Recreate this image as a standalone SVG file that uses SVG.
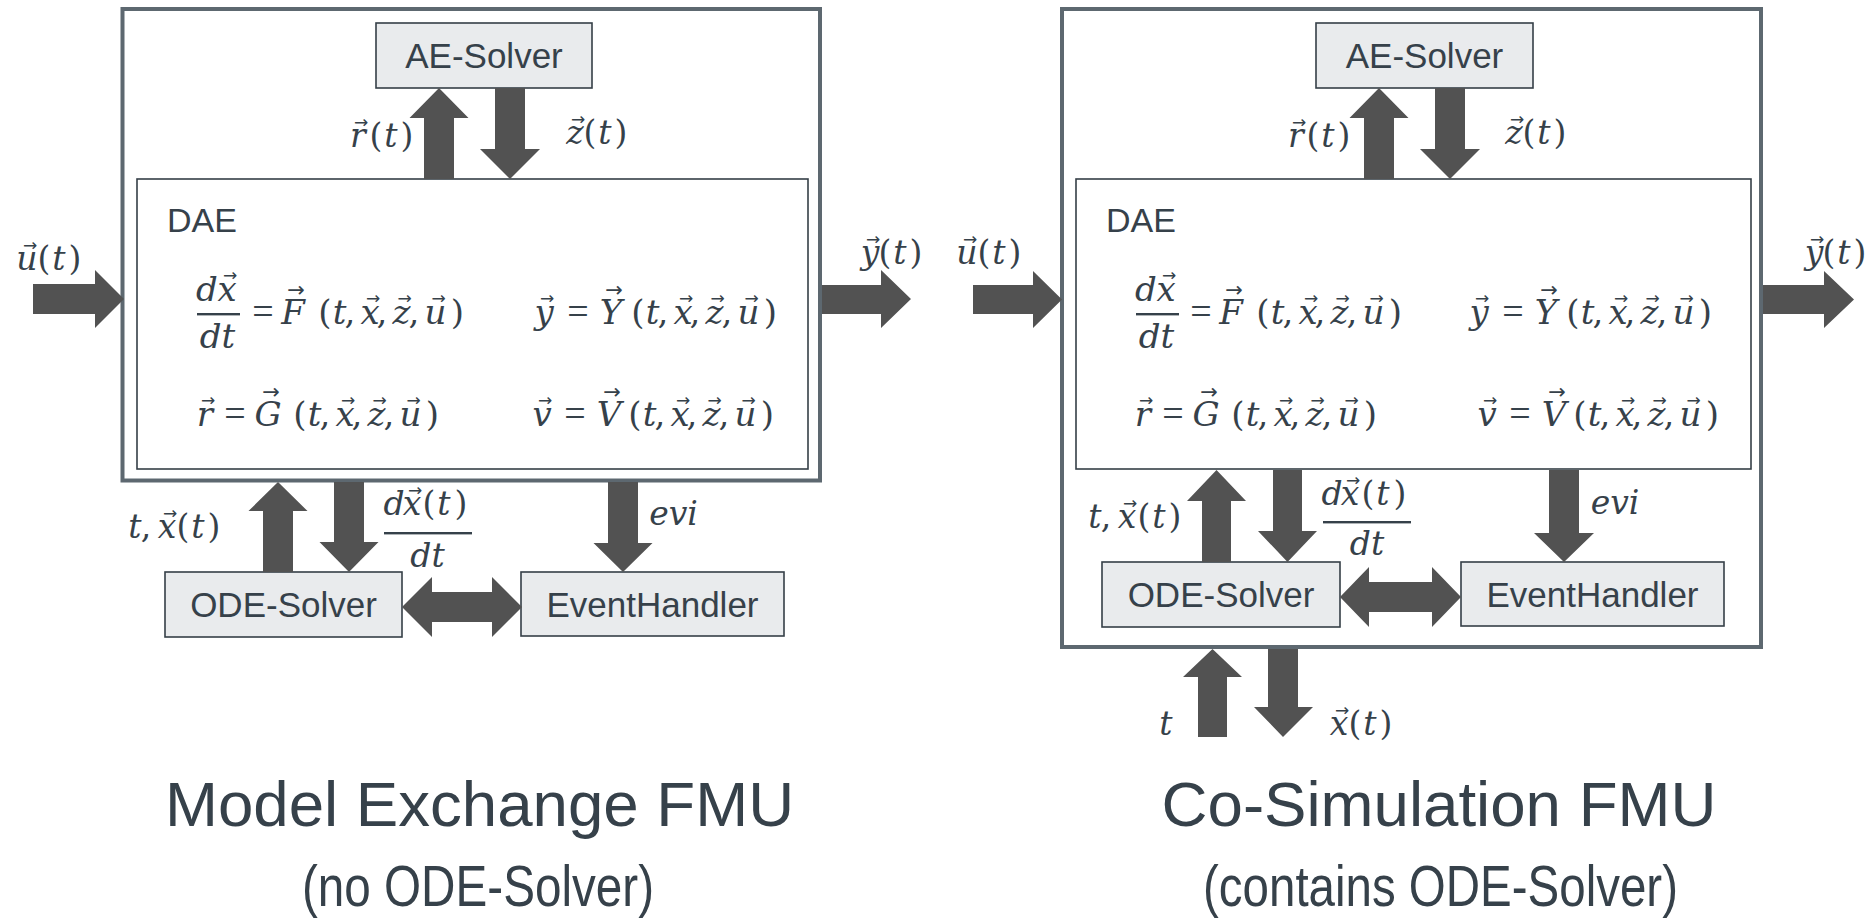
<svg xmlns="http://www.w3.org/2000/svg" width="1872" height="921" viewBox="0 0 1872 921">
<style>
.frame{fill:none;stroke:#5d6870;stroke-width:4}
.dae{fill:none;stroke:#353f47;stroke-width:1.6}
.box{fill:#e9ebed;stroke:#353f47;stroke-width:1.6}
.arr{fill:#525252}
.lbl{font-family:"Liberation Sans",Arial,sans-serif;fill:#36414a}
.bl{font-size:35px;text-anchor:middle}
.dl{font-size:34px}
.title{font-size:63.6px;text-anchor:middle}
.sub{font-size:58px;text-anchor:middle}
.m{font-family:"DejaVu Serif",serif;fill:#36414a;text-anchor:middle}
.eq{font-size:34px}
.ml{font-size:33px}
.i{font-style:italic}
.e{font-family:"Liberation Serif",serif;font-size:38px}
.a{font-family:"DejaVu Sans",sans-serif;font-size:17px;font-style:normal}
.A{font-family:"DejaVu Sans",sans-serif;font-size:21px;font-style:normal}
.fl{fill:#36414a}
</style>
<rect width="1872" height="921" fill="#ffffff"/>

<!-- ============ LEFT: Model Exchange FMU ============ -->
<g id="me-frame"><rect class="frame" x="122.5" y="9" width="697.5" height="471.5"/></g>
<g id="me-ae-solver"><rect class="box" x="376" y="23" width="216" height="65"/><text class="lbl bl" x="484" y="68">AE-Solver</text></g>
<g id="me-dae">
<rect class="dae" x="137" y="179" width="671" height="290"/>
<text class="lbl dl" x="167" y="232">DAE</text>
<text class="m eq"><tspan class="i" x="207" y="301">d</tspan><tspan class="i" x="227" y="301">x</tspan><tspan class="a" x="230" y="281">→</tspan></text>
<rect class="fl" x="197" y="313" width="43" height="2.4"/>
<text class="m eq i" x="217.5" y="348">dt</text>
<text class="m eq"><tspan class="e" x="263" y="324">=</tspan><tspan class="i" x="293" y="324">F</tspan><tspan class="A" x="296" y="297">→</tspan><tspan x="325" y="324">(</tspan><tspan class="i" x="339.5" y="324">t</tspan><tspan x="350" y="324">,</tspan><tspan class="i" x="370" y="324">x</tspan><tspan class="a" x="373" y="304">→</tspan><tspan x="382" y="324">,</tspan><tspan class="i" x="401.5" y="324">z</tspan><tspan class="a" x="404.5" y="304">→</tspan><tspan x="414" y="324">,</tspan><tspan class="i" x="435.5" y="324">u</tspan><tspan class="a" x="438.5" y="304">→</tspan><tspan x="457.5" y="324">)</tspan></text>
<text class="m eq"><tspan class="i" x="544" y="324">y</tspan><tspan class="a" x="547" y="304">→</tspan><tspan class="e" x="578" y="324">=</tspan><tspan class="i" x="611" y="324">Y</tspan><tspan class="A" x="614" y="297">→</tspan><tspan x="638" y="324">(</tspan><tspan class="i" x="652.5" y="324">t</tspan><tspan x="663" y="324">,</tspan><tspan class="i" x="683" y="324">x</tspan><tspan class="a" x="686" y="304">→</tspan><tspan x="695" y="324">,</tspan><tspan class="i" x="714.5" y="324">z</tspan><tspan class="a" x="717.5" y="304">→</tspan><tspan x="727" y="324">,</tspan><tspan class="i" x="748.5" y="324">u</tspan><tspan class="a" x="751.5" y="304">→</tspan><tspan x="770.5" y="324">)</tspan></text>
<text class="m eq"><tspan class="i" x="205" y="426">r</tspan><tspan class="a" x="208" y="406">→</tspan><tspan class="e" x="235" y="426">=</tspan><tspan class="i" x="268" y="426">G</tspan><tspan class="A" x="271" y="399">→</tspan><tspan x="300" y="426">(</tspan><tspan class="i" x="314.5" y="426">t</tspan><tspan x="325" y="426">,</tspan><tspan class="i" x="345" y="426">x</tspan><tspan class="a" x="348" y="406">→</tspan><tspan x="357" y="426">,</tspan><tspan class="i" x="376.5" y="426">z</tspan><tspan class="a" x="379.5" y="406">→</tspan><tspan x="389" y="426">,</tspan><tspan class="i" x="410.5" y="426">u</tspan><tspan class="a" x="413.5" y="406">→</tspan><tspan x="432.5" y="426">)</tspan></text>
<text class="m eq"><tspan class="i" x="542" y="426">v</tspan><tspan class="a" x="545" y="406">→</tspan><tspan class="e" x="575" y="426">=</tspan><tspan class="i" x="609" y="426">V</tspan><tspan class="A" x="612" y="399">→</tspan><tspan x="635" y="426">(</tspan><tspan class="i" x="649.5" y="426">t</tspan><tspan x="660" y="426">,</tspan><tspan class="i" x="680" y="426">x</tspan><tspan class="a" x="683" y="406">→</tspan><tspan x="692" y="426">,</tspan><tspan class="i" x="711.5" y="426">z</tspan><tspan class="a" x="714.5" y="406">→</tspan><tspan x="724" y="426">,</tspan><tspan class="i" x="745.5" y="426">u</tspan><tspan class="a" x="748.5" y="406">→</tspan><tspan x="767.5" y="426">)</tspan></text>
</g>
<g id="me-ode-solver"><rect class="box" x="165" y="572" width="237" height="65"/><text class="lbl bl" x="283.5" y="617">ODE-Solver</text></g>
<g id="me-eventhandler"><rect class="box" x="521" y="572" width="263" height="64"/><text class="lbl bl" x="652.5" y="617">EventHandler</text></g>
<g id="me-title">
<text class="lbl title" x="479.5" y="826">Model Exchange FMU</text>
<text class="lbl sub" x="478" y="906" textLength="352" lengthAdjust="spacingAndGlyphs">(no ODE-Solver)</text>
</g>

<!-- ============ RIGHT: Co-Simulation FMU ============ -->
<g id="cs-frame"><rect class="frame" x="1062" y="9" width="699" height="638"/></g>
<g id="cs-ae-solver"><rect class="box" x="1316" y="23" width="217" height="65"/><text class="lbl bl" x="1424.5" y="68">AE-Solver</text></g>
<g id="cs-dae">
<rect class="dae" x="1076" y="179" width="675" height="290"/>
<text class="lbl dl" x="1106" y="232">DAE</text>
<text class="m eq"><tspan class="i" x="1146" y="301">d</tspan><tspan class="i" x="1166" y="301">x</tspan><tspan class="a" x="1169" y="281">→</tspan></text>
<rect class="fl" x="1136" y="313" width="43" height="2.4"/>
<text class="m eq i" x="1156.5" y="348">dt</text>
<text class="m eq"><tspan class="e" x="1201" y="324">=</tspan><tspan class="i" x="1231" y="324">F</tspan><tspan class="A" x="1234" y="297">→</tspan><tspan x="1263" y="324">(</tspan><tspan class="i" x="1277.5" y="324">t</tspan><tspan x="1288" y="324">,</tspan><tspan class="i" x="1308" y="324">x</tspan><tspan class="a" x="1311" y="304">→</tspan><tspan x="1320" y="324">,</tspan><tspan class="i" x="1339.5" y="324">z</tspan><tspan class="a" x="1342.5" y="304">→</tspan><tspan x="1352" y="324">,</tspan><tspan class="i" x="1373.5" y="324">u</tspan><tspan class="a" x="1376.5" y="304">→</tspan><tspan x="1395.5" y="324">)</tspan></text>
<text class="m eq"><tspan class="i" x="1479" y="324">y</tspan><tspan class="a" x="1482" y="304">→</tspan><tspan class="e" x="1513" y="324">=</tspan><tspan class="i" x="1546" y="324">Y</tspan><tspan class="A" x="1549" y="297">→</tspan><tspan x="1573" y="324">(</tspan><tspan class="i" x="1587.5" y="324">t</tspan><tspan x="1598" y="324">,</tspan><tspan class="i" x="1618" y="324">x</tspan><tspan class="a" x="1621" y="304">→</tspan><tspan x="1630" y="324">,</tspan><tspan class="i" x="1649.5" y="324">z</tspan><tspan class="a" x="1652.5" y="304">→</tspan><tspan x="1662" y="324">,</tspan><tspan class="i" x="1683.5" y="324">u</tspan><tspan class="a" x="1686.5" y="304">→</tspan><tspan x="1705.5" y="324">)</tspan></text>
<text class="m eq"><tspan class="i" x="1143" y="426">r</tspan><tspan class="a" x="1146" y="406">→</tspan><tspan class="e" x="1173" y="426">=</tspan><tspan class="i" x="1206" y="426">G</tspan><tspan class="A" x="1209" y="399">→</tspan><tspan x="1238" y="426">(</tspan><tspan class="i" x="1252.5" y="426">t</tspan><tspan x="1263" y="426">,</tspan><tspan class="i" x="1283" y="426">x</tspan><tspan class="a" x="1286" y="406">→</tspan><tspan x="1295" y="426">,</tspan><tspan class="i" x="1314.5" y="426">z</tspan><tspan class="a" x="1317.5" y="406">→</tspan><tspan x="1327" y="426">,</tspan><tspan class="i" x="1348.5" y="426">u</tspan><tspan class="a" x="1351.5" y="406">→</tspan><tspan x="1370.5" y="426">)</tspan></text>
<text class="m eq"><tspan class="i" x="1487" y="426">v</tspan><tspan class="a" x="1490" y="406">→</tspan><tspan class="e" x="1520" y="426">=</tspan><tspan class="i" x="1554" y="426">V</tspan><tspan class="A" x="1557" y="399">→</tspan><tspan x="1580" y="426">(</tspan><tspan class="i" x="1594.5" y="426">t</tspan><tspan x="1605" y="426">,</tspan><tspan class="i" x="1625" y="426">x</tspan><tspan class="a" x="1628" y="406">→</tspan><tspan x="1637" y="426">,</tspan><tspan class="i" x="1656.5" y="426">z</tspan><tspan class="a" x="1659.5" y="406">→</tspan><tspan x="1669" y="426">,</tspan><tspan class="i" x="1690.5" y="426">u</tspan><tspan class="a" x="1693.5" y="406">→</tspan><tspan x="1712.5" y="426">)</tspan></text>
</g>
<g id="cs-ode-solver"><rect class="box" x="1102" y="562" width="238" height="65"/><text class="lbl bl" x="1221" y="607">ODE-Solver</text></g>
<g id="cs-eventhandler"><rect class="box" x="1461" y="562" width="263" height="64"/><text class="lbl bl" x="1592.5" y="607">EventHandler</text></g>
<g id="cs-title">
<text class="lbl title" x="1439" y="826">Co-Simulation FMU</text>
<text class="lbl sub" x="1440.5" y="906" textLength="475" lengthAdjust="spacingAndGlyphs">(contains ODE-Solver)</text>
</g>

<!-- ============ CONNECTORS ============ -->
<g id="connectors">
<polygon class="arr" points="33,284 95,284 95,270 124,299 95,328 95,314 33,314"/>
<polygon class="arr" points="822,285 881,285 881,270 911,299 881,328 881,314 822,314"/>
<polygon class="arr" points="424,179 424,118 409.5,118 439,88 468.5,118 454,118 454,179"/>
<polygon class="arr" points="495,88 525,88 525,149 540,149 510,179 480,149 495,149"/>
<polygon class="arr" points="263,572 263,511 248.5,511 278,482 307.5,511 293,511 293,572"/>
<polygon class="arr" points="334,482 364,482 364,542 378.5,542 349,572 319.5,542 334,542"/>
<polygon class="arr" points="608,482 638,482 638,543 652.5,543 623,572 593.5,543 608,543"/>
<polygon class="arr" points="402,607 432,577 432,592 492,592 492,577 522,607 492,637 492,622 432,622 432,637"/>
<polygon class="arr" points="973,285 1033,285 1033,271 1062,299.5 1033,328 1033,314 973,314"/>
<polygon class="arr" points="1763,285 1824,285 1824,271 1854,299.5 1824,328 1824,314 1763,314"/>
<polygon class="arr" points="1364,179 1364,118 1349.5,118 1379,88 1408.5,118 1394,118 1394,179"/>
<polygon class="arr" points="1435,88 1465,88 1465,149 1480,149 1450,179 1420,149 1435,149"/>
<polygon class="arr" points="1202,562 1202,501 1187,501 1216.5,470 1246,501 1231,501 1231,562"/>
<polygon class="arr" points="1273,470 1302,470 1302,531 1317,531 1287.5,562 1258,531 1273,531"/>
<polygon class="arr" points="1549,470 1579,470 1579,533 1594,533 1564,562 1534,533 1549,533"/>
<polygon class="arr" points="1340,597 1369,567 1369,582 1432,582 1432,567 1461,597 1432,627 1432,612 1369,612 1369,627"/>
<polygon class="arr" points="1198,737 1198,677 1183,677 1212.5,649 1242,677 1227,677 1227,737"/>
<polygon class="arr" points="1268,649 1298,649 1298,707 1313,707 1283,737 1254,707 1268,707"/>
</g>

<!-- ============ CONNECTOR LABELS ============ -->
<g id="labels">
<text class="m ml"><tspan class="i" x="358" y="147">r</tspan><tspan class="a" x="361" y="128">→</tspan><tspan x="376" y="147">(</tspan><tspan class="i" x="391" y="147">t</tspan><tspan x="407" y="147">)</tspan></text>
<text class="m ml"><tspan class="i" x="575" y="144">z</tspan><tspan class="a" x="578" y="125">→</tspan><tspan x="590" y="144">(</tspan><tspan class="i" x="605" y="144">t</tspan><tspan x="621" y="144">)</tspan></text>
<text class="m ml"><tspan class="i" x="27" y="270">u</tspan><tspan class="a" x="30" y="251">→</tspan><tspan x="44" y="270">(</tspan><tspan class="i" x="59" y="270">t</tspan><tspan x="75" y="270">)</tspan></text>
<text class="m ml"><tspan class="i" x="870" y="264">y</tspan><tspan class="a" x="873" y="245">→</tspan><tspan x="885" y="264">(</tspan><tspan class="i" x="900" y="264">t</tspan><tspan x="916" y="264">)</tspan></text>
<text class="m ml"><tspan class="i" x="135" y="538">t</tspan><tspan x="146" y="538">,</tspan><tspan class="i" x="167" y="538">x</tspan><tspan class="a" x="170" y="519">→</tspan><tspan x="183" y="538">(</tspan><tspan class="i" x="198" y="538">t</tspan><tspan x="214" y="538">)</tspan></text>
<text class="m ml"><tspan class="i" x="394" y="515">d</tspan><tspan class="i" x="412" y="515">x</tspan><tspan class="a" x="415" y="496">→</tspan><tspan x="429" y="515">(</tspan><tspan class="i" x="444" y="515">t</tspan><tspan x="461" y="515">)</tspan></text>
<rect class="fl" x="384" y="532" width="88" height="2.4"/>
<text class="m ml i" x="427.5" y="567">dt</text>
<text class="m ml i" x="673.5" y="525">evi</text>

<text class="m ml"><tspan class="i" x="1296" y="147">r</tspan><tspan class="a" x="1299" y="128">→</tspan><tspan x="1313" y="147">(</tspan><tspan class="i" x="1328" y="147">t</tspan><tspan x="1344" y="147">)</tspan></text>
<text class="m ml"><tspan class="i" x="1514" y="144">z</tspan><tspan class="a" x="1517" y="125">→</tspan><tspan x="1529" y="144">(</tspan><tspan class="i" x="1544" y="144">t</tspan><tspan x="1560" y="144">)</tspan></text>
<text class="m ml"><tspan class="i" x="967" y="264">u</tspan><tspan class="a" x="970" y="245">→</tspan><tspan x="984" y="264">(</tspan><tspan class="i" x="999" y="264">t</tspan><tspan x="1015" y="264">)</tspan></text>
<text class="m ml"><tspan class="i" x="1814" y="264">y</tspan><tspan class="a" x="1817" y="245">→</tspan><tspan x="1829" y="264">(</tspan><tspan class="i" x="1844" y="264">t</tspan><tspan x="1860" y="264">)</tspan></text>
<text class="m ml"><tspan class="i" x="1095" y="528">t</tspan><tspan x="1106" y="528">,</tspan><tspan class="i" x="1127" y="528">x</tspan><tspan class="a" x="1130" y="509">→</tspan><tspan x="1144" y="528">(</tspan><tspan class="i" x="1159" y="528">t</tspan><tspan x="1175" y="528">)</tspan></text>
<text class="m ml"><tspan class="i" x="1332" y="505">d</tspan><tspan class="i" x="1350" y="505">x</tspan><tspan class="a" x="1353" y="486">→</tspan><tspan x="1368" y="505">(</tspan><tspan class="i" x="1383" y="505">t</tspan><tspan x="1400" y="505">)</tspan></text>
<rect class="fl" x="1323" y="521" width="88" height="2.4"/>
<text class="m ml i" x="1367" y="555">dt</text>
<text class="m ml i" x="1615" y="514">evi</text>
<text class="m ml i" x="1166" y="735">t</text>
<text class="m ml"><tspan class="i" x="1339" y="735">x</tspan><tspan class="a" x="1342" y="716">→</tspan><tspan x="1355" y="735">(</tspan><tspan class="i" x="1370" y="735">t</tspan><tspan x="1386" y="735">)</tspan></text>
</g>
</svg>
